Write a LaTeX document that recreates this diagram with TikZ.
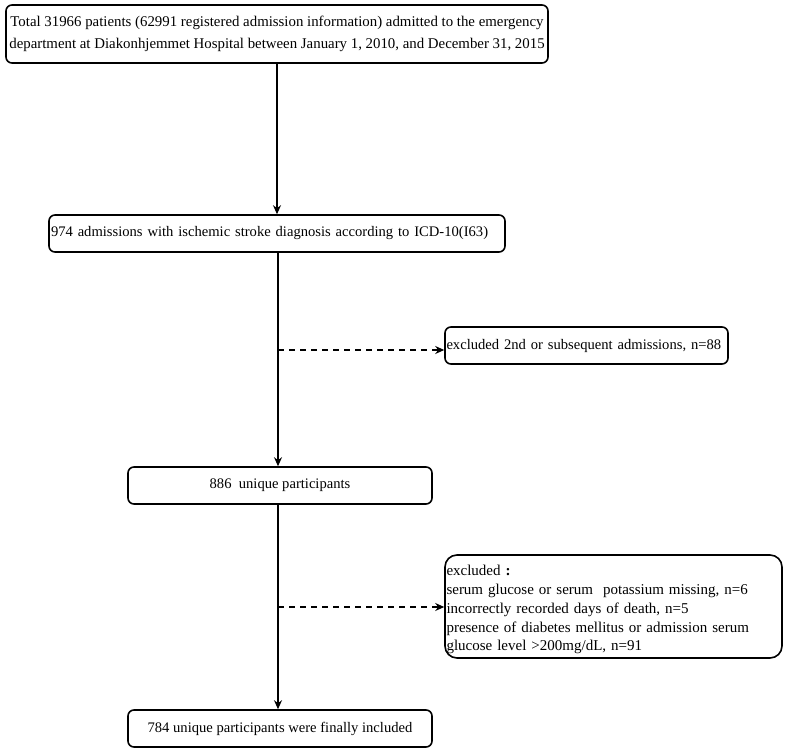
\documentclass[tikz,border=0pt]{standalone}
\usepackage{fontspec}
\setmainfont{Liberation Serif}
\usetikzlibrary{arrows.meta}
\begin{document}
\begin{tikzpicture}[x=1pt,y=-1pt,
  box/.style={draw,line width=1.6pt,rounded corners=6pt,inner sep=1pt,font=\fontsize{14.6}{17}\selectfont},
  flow/.style={line width=1.6pt,-{Stealth[length=9pt,width=8pt]}},
  excl/.style={line width=1.6pt,dash pattern=on 6pt off 5pt,-{Stealth[length=9pt,width=8pt]}}]
\useasboundingbox (0,0) rectangle (786,752);
\node[box,minimum width=542pt,minimum height=58pt,align=center,font=\fontsize{14.85}{21.5}\selectfont] (b1) at (277,34)
  {Total 31966 patients (62991 registered admission information) admitted to the emergency\\department at Diakonhjemmet Hospital between January 1, 2010, and December 31, 2015};
\node[box,minimum width=456pt,minimum height=37pt,text width=452pt,align=left] (b2) at (277,233.5)
  {974 admissions with ischemic stroke diagnosis according to ICD-10(I63)};
\node[box,minimum width=304pt,minimum height=37pt,align=center] (b3) at (280,485.5)
  {886\ \ unique participants};
\node[box,minimum width=304pt,minimum height=37pt,align=center] (b4) at (280,728.5)
  {784 unique participants were finally included};
\node[box,minimum width=283pt,minimum height=37pt,text width=280pt,align=left] (e1) at (586.5,345.5)
  {excluded 2nd or subsequent admissions, n=88};
\node[box,rounded corners=12pt,minimum width=337pt,minimum height=103pt,text width=334pt,align=left,font=\fontsize{15}{18.8}\selectfont] (e2) at (613.5,606.5)
  {\rule{0pt}{17pt}excluded \textbf{:}\\serum glucose or serum\ \ potassium missing, n=6\\incorrectly recorded days of death, n=5\\presence of diabetes mellitus or admission serum\\glucose level >200mg/dL, n=91};
\coordinate (d1) at (278,350);
\coordinate (d2) at (278,607);
\draw[flow] (b1.south) -- (b2.north);
\draw[flow] (b2.south -| 278,0) -- (b3.north -| 278,0);
\draw[flow] (b3.south -| 278,0) -- (b4.north -| 278,0);
\draw[excl] (d1) -- (e1.west |- d1);
\draw[excl] (d2) -- (e2.west |- d2);
\end{tikzpicture}
\end{document}
